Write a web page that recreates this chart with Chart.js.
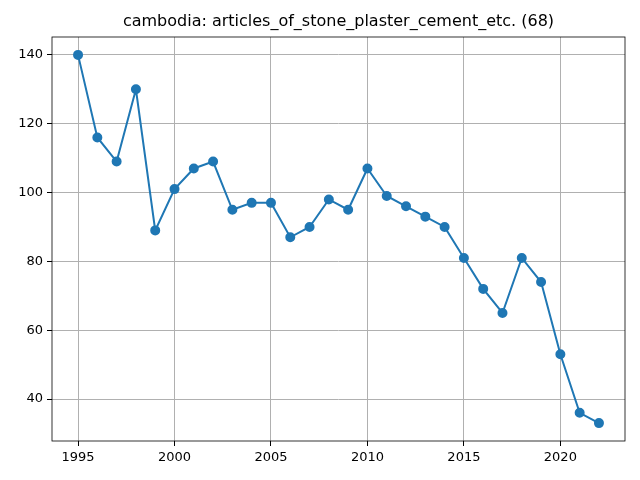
<!DOCTYPE html>
<html>
<head>
<meta charset="utf-8">
<script src="https://cdn.jsdelivr.net/npm/chart.js@4.4.1/dist/chart.umd.min.js"></script>
<style>
  html, body { margin: 0; padding: 0; background: #fff; }
  #wrap { width: 640px; height: 480px; }
</style>
</head>
<body>
<div id="wrap"><canvas id="chart"></canvas></div>
<script>
// values
const years = [1995, 1996, 1997, 1998, 1999, 2000, 2001, 2002, 2003, 2004,
               2005, 2006, 2007, 2008, 2009, 2010, 2011, 2012, 2013, 2014,
               2015, 2016, 2017, 2018, 2019, 2020, 2021, 2022];
const counts = [140, 116, 109, 130, 89, 101, 107, 109, 95, 97,
                97, 87, 90, 98, 95, 107, 99, 96, 93, 90,
                81, 72, 65, 81, 74, 53, 36, 33];
const xTicks = [1995, 2000, 2005, 2010, 2015, 2020];
const yTicks = [40, 60, 80, 100, 120, 140];
const chartTitle = 'cambodia: articles_of_stone_plaster_cement_etc. (68)';

Chart.defaults.font.family = "'DejaVu Sans', sans-serif";
Chart.defaults.color = '#000';

// matplotlib-style box around the plot area, title centred over it
const frame = {
    id: 'frame',
    afterDatasetsDraw(chart) {
        const a = chart.chartArea;
        const ctx = chart.ctx;
        ctx.save();
        ctx.strokeStyle = '#000';
        ctx.lineWidth = 0.8;
        ctx.strokeRect(a.left, a.top, a.right - a.left, a.bottom - a.top);
        ctx.fillStyle = '#000';
        ctx.font = "16px 'DejaVu Sans', sans-serif";
        ctx.textAlign = 'center';
        ctx.textBaseline = 'middle';
        ctx.fillText(chartTitle, (a.left + a.right) / 2, 22);
        ctx.restore();
    }
};

new Chart(document.getElementById('chart'), {
    type: 'line',
    data: {
        datasets: [{
            data: years.map((y, i) => ({ x: y, y: counts[i] })),
            borderColor: '#1f77b4',
            backgroundColor: '#1f77b4',
            borderWidth: 2,
            pointRadius: 4,
            pointHoverRadius: 4,
            tension: 0
        }]
    },
    options: {
        responsive: true,
        maintainAspectRatio: false,
        animation: false,
        layout: { padding: { left: 0, right: 15, top: 37, bottom: 0 } },
        plugins: {
            legend: { display: false },
            tooltip: { enabled: false },
            title: { display: false }
        },
        scales: {
            x: {
                type: 'linear',
                min: 1993.65,
                max: 2023.35,
                afterBuildTicks: s => { s.ticks = xTicks.map(v => ({ value: v })); },
                afterFit: s => { s.height = 39; },
                ticks: { font: { size: 13 }, padding: 4, maxRotation: 0, callback: v => String(v) },
                grid: { color: '#b0b0b0', lineWidth: 1, tickLength: 5, tickColor: '#000' },
                border: { display: false }
            },
            y: {
                min: 27.8,
                max: 145.2,
                afterBuildTicks: s => { s.ticks = yTicks.map(v => ({ value: v })); },
                afterFit: s => { s.width = 52; },
                ticks: { font: { size: 13 }, padding: 4 },
                grid: { color: '#b0b0b0', lineWidth: 1, tickLength: 5, tickColor: '#000' },
                border: { display: false }
            }
        }
    },
    plugins: [frame]
});
</script>
</body>
</html>
